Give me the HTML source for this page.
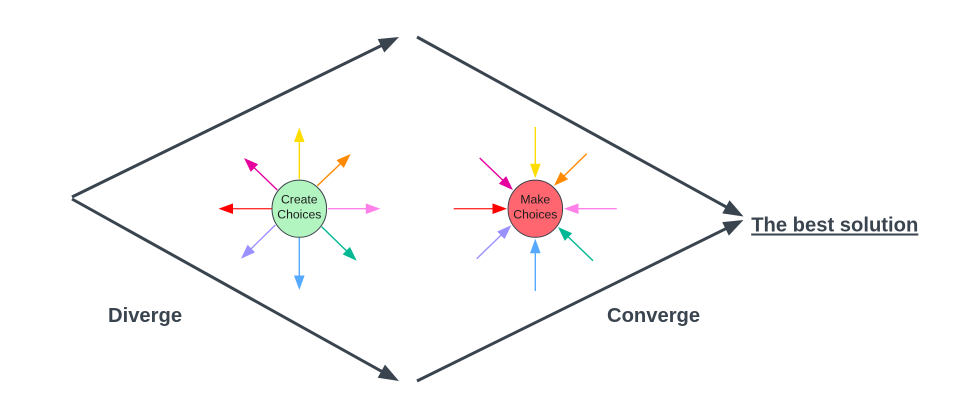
<!DOCTYPE html>
<html>
<head>
<meta charset="utf-8">
<style>
html,body{margin:0;padding:0;background:#fff;width:980px;height:418px;overflow:hidden}
svg{display:block}
text{font-family:"Liberation Sans",sans-serif}
.b{font-weight:700;font-size:20.2px;fill:#3a444f}
.c{font-size:12.2px;fill:#1c1c1c;text-anchor:middle}
</style>
</head>
<body>
<svg width="980" height="418" viewBox="0 0 980 418" xmlns="http://www.w3.org/2000/svg">
<!-- main connectors -->
<g stroke="#3a444f" fill="#3a444f" stroke-width="3">
<g transform="translate(72,197) rotate(-26.07)"><line x1="0" y1="0" x2="350" y2="0"/><polygon stroke="none" points="364,0 344,-7.5 344,7.5"/></g>
<g transform="translate(72,199) rotate(29.1)"><line x1="0" y1="0" x2="360" y2="0"/><polygon stroke="none" points="374.2,0 354,-7.5 354,7.5"/></g>
<g transform="translate(417,37) rotate(28.8)"><line x1="0" y1="0" x2="358" y2="0"/><polygon stroke="none" points="372.6,0 352.5,-7.5 352.5,7.5"/></g>
<g transform="translate(417,381) rotate(-26.25)"><line x1="0" y1="0" x2="350" y2="0"/><polygon stroke="none" points="364,0 344,-7.5 344,7.5"/></g>
</g>
<!-- left arrows -->
<g stroke-width="1.4">
<g transform="translate(299.3,179) rotate(-90)" stroke="#ffdd00" fill="#ffdd00"><line x2="40"/><polygon stroke="none" points="51.5,0 37,-5.3 37,5.3"/></g>
<g transform="translate(317.3,185.7) rotate(-43.5)" stroke="#ff8a00" fill="#ff8a00"><line x2="35"/><polygon stroke="none" points="46,0 31.5,-5.3 31.5,5.3"/></g>
<g transform="translate(277.3,190) rotate(-136.1)" stroke="#e6009e" fill="#e6009e"><line x2="35"/><polygon stroke="none" points="46.2,0 31.7,-5.3 31.7,5.3"/></g>
<g transform="translate(271.5,208.7) rotate(180)" stroke="#ff3030" fill="#ff0000"><line x2="42"/><polygon stroke="none" points="53,0 38.5,-5.3 38.5,5.3"/></g>
<g transform="translate(328,208.7)" stroke="#ff80e8" fill="#ff80e8"><line x2="41"/><polygon stroke="none" points="52.3,0 37.8,-5.3 37.8,5.3"/></g>
<g transform="translate(321.7,226.7) rotate(44.2)" stroke="#00b894" fill="#00b894"><line x2="38"/><polygon stroke="none" points="48.8,0 34.3,-5.3 34.3,5.3"/></g>
<g transform="translate(299.3,238) rotate(90)" stroke="#55aaff" fill="#55aaff"><line x2="41"/><polygon stroke="none" points="52,0 37.5,-5.3 37.5,5.3"/></g>
<g transform="translate(275.3,225) rotate(135.5)" stroke="#9a90ff" fill="#9a90ff"><line x2="37"/><polygon stroke="none" points="48.1,0 33.6,-5.3 33.6,5.3"/></g>
</g>
<ellipse cx="299.3" cy="208.7" rx="27.3" ry="28.6" fill="#b2f5c0" stroke="#3a414a" stroke-width="1"/>
<text class="c" x="299.3" y="203.7">Create</text>
<text class="c" x="299.3" y="218.3">Choices</text>
<!-- right arrows -->
<g stroke-width="1.4">
<g transform="translate(535.3,127) rotate(90)" stroke="#ffdd00" fill="#ffdd00"><line x2="40"/><polygon stroke="none" points="51.3,0 36.8,-5.3 36.8,5.3"/></g>
<g transform="translate(586.7,153.7) rotate(135.6)" stroke="#ff8a00" fill="#ff8a00"><line x2="35"/><polygon stroke="none" points="45.8,0 31.3,-5.3 31.3,5.3"/></g>
<g transform="translate(479.7,158) rotate(43.9)" stroke="#e6009e" fill="#e6009e"><line x2="35"/><polygon stroke="none" points="46.2,0 31.7,-5.3 31.7,5.3"/></g>
<g transform="translate(453.7,208.7)" stroke="#ff3030" fill="#ff0000"><line x2="42"/><polygon stroke="none" points="53.3,0 38.8,-5.3 38.8,5.3"/></g>
<g transform="translate(616.7,208.7) rotate(180)" stroke="#ff80e8" fill="#ff80e8"><line x2="42"/><polygon stroke="none" points="52.7,0 38.2,-5.3 38.2,5.3"/></g>
<g transform="translate(593,260.7) rotate(-136.1)" stroke="#00b894" fill="#00b894"><line x2="38"/><polygon stroke="none" points="48.6,0 34.1,-5.3 34.1,5.3"/></g>
<g transform="translate(535.3,291) rotate(-90)" stroke="#55aaff" fill="#55aaff"><line x2="41"/><polygon stroke="none" points="52.3,0 37.8,-5.3 37.8,5.3"/></g>
<g transform="translate(476.7,258.7) rotate(-44)" stroke="#9a90ff" fill="#9a90ff"><line x2="37"/><polygon stroke="none" points="48.1,0 33.6,-5.3 33.6,5.3"/></g>
</g>
<ellipse cx="535.3" cy="208.7" rx="27.3" ry="28.6" fill="#ff6670" stroke="#3a414a" stroke-width="1"/>
<text class="c" x="535.3" y="203.7">Make</text>
<text class="c" x="535.3" y="218.3">Choices</text>
<!-- labels -->
<text class="b" x="108" y="322">Diverge</text>
<text class="b" x="607" y="322">Converge</text>
<text class="b" x="751.2" y="231.5" text-decoration="underline">The best solution</text>
</svg>
</body>
</html>
